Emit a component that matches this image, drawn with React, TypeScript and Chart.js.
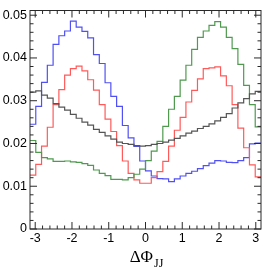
import React, { useEffect, useRef } from "react";
import { Chart, registerables } from "chart.js";

Chart.register(...registerables);

// ---- data ----
const NBINS = 40;
const X_MIN = -Math.PI;
const X_MAX = Math.PI;
const Y_MIN = 0;
const Y_MAX = 0.0511;

const xTickValues = [-3, -2, -1, 0, 1, 2, 3];
const xTickLabels = ["-3", "-2", "-1", "0", "1", "2", "3"];
const yTickValues = [0, 0.01, 0.02, 0.03, 0.04, 0.05];
const yTickLabels = ["0", "0.01", "0.02", "0.03", "0.04", "0.05"];
const xMinorStep = 0.2;
const yMinorStep = 0.002;

const blueValues = [
  0.0245, 0.0287, 0.0343, 0.0383, 0.0432, 0.0452, 0.0463, 0.0486, 0.0472, 0.0462,
  0.0447, 0.0408, 0.0387, 0.0342, 0.031, 0.0287, 0.0242, 0.0213, 0.0193, 0.0159,
  0.0136, 0.0124, 0.0118, 0.0117, 0.0111, 0.0117, 0.0124, 0.013, 0.0135, 0.0141,
  0.0148, 0.0154, 0.016, 0.0159, 0.0156, 0.0155, 0.016, 0.0167, 0.0199, 0.0201,
];
const redValues = [
  0.0126, 0.0151, 0.0194, 0.0238, 0.0291, 0.0326, 0.036, 0.0375, 0.0381, 0.037,
  0.0349, 0.0325, 0.0291, 0.0257, 0.0228, 0.0195, 0.0159, 0.013, 0.0115, 0.0107,
  0.0107, 0.012, 0.0134, 0.0158, 0.0194, 0.0231, 0.0261, 0.0297, 0.0324, 0.0351,
  0.0375, 0.0377, 0.0379, 0.0358, 0.0335, 0.0291, 0.0236, 0.019, 0.015, 0.0122,
];
const greenValues = [
  0.0207, 0.0179, 0.0167, 0.0164, 0.0158, 0.0158, 0.0159, 0.0157, 0.0156, 0.0153,
  0.0149, 0.0138, 0.013, 0.0125, 0.0116, 0.0116, 0.0115, 0.012, 0.0128, 0.014,
  0.016, 0.0182, 0.0205, 0.024, 0.028, 0.031, 0.0348, 0.0383, 0.042, 0.0448,
  0.0463, 0.0476, 0.0485, 0.0472, 0.0448, 0.0422, 0.0385, 0.0336, 0.0291, 0.0239,
];
const blackValues = [
  0.032, 0.0323, 0.0313, 0.0306, 0.0293, 0.0285, 0.0278, 0.0268, 0.0259, 0.025,
  0.0243, 0.0233, 0.0226, 0.0218, 0.021, 0.0203, 0.02, 0.0198, 0.0195, 0.0194,
  0.0195, 0.0198, 0.02, 0.0203, 0.0208, 0.0212, 0.0218, 0.0224, 0.0229, 0.0235,
  0.024, 0.0246, 0.0253, 0.0261, 0.027, 0.0283, 0.0295, 0.0305, 0.0316, 0.0322,
];

const seriesColors = {
  black: "#555555",
  green: "#4f9a4f",
  red: "#ff5a5a",
  blue: "#5050f5",
};

function histPoints(values: number[]) {
  const w = (X_MAX - X_MIN) / NBINS;
  const pts = values.map((v, i) => ({ x: X_MIN + i * w, y: v }));
  pts.push({ x: X_MAX, y: values[values.length - 1] });
  return pts;
}

const framePlugin = {
  id: "rootFrame",
  afterDatasetsDraw(chart: any) {
    const { ctx, chartArea } = chart;
    const xs = chart.scales.x;
    const ys = chart.scales.y;
    const { left, right, top, bottom } = chartArea;
    ctx.save();
    ctx.strokeStyle = "#2a2a2a";
    ctx.lineWidth = 1;
    ctx.strokeRect(left, top, right - left, bottom - top);
    const major = 7;
    const minor = 3.5;
    ctx.beginPath();
    // x ticks (bottom and top)
    const nx = Math.round((X_MAX - X_MIN) / xMinorStep) + 2;
    const xStart = Math.ceil(X_MIN / xMinorStep) * xMinorStep;
    for (let i = 0; i < nx; i++) {
      const v = xStart + i * xMinorStep;
      if (v > X_MAX) break;
      const isMajor = Math.abs(v - Math.round(v)) < 1e-6;
      const len = isMajor ? major : minor;
      const px = xs.getPixelForValue(v);
      ctx.moveTo(px, bottom);
      ctx.lineTo(px, bottom - len);
      ctx.moveTo(px, top);
      ctx.lineTo(px, top + len);
    }
    // y ticks (left and right)
    const ny = Math.round((Y_MAX - Y_MIN) / yMinorStep) + 2;
    for (let i = 0; i < ny; i++) {
      const v = Y_MIN + i * yMinorStep;
      if (v > Y_MAX) break;
      const isMajor = i % 5 === 0;
      const len = isMajor ? major : minor;
      const py = ys.getPixelForValue(v);
      ctx.moveTo(left, py);
      ctx.lineTo(left + len, py);
      ctx.moveTo(right, py);
      ctx.lineTo(right - len, py);
    }
    ctx.stroke();

    // axis title: ΔΦ with subscript JJ
    const main = "ΔΦ";
    const sub = "JJ";
    ctx.fillStyle = "#000";
    ctx.textBaseline = "alphabetic";
    ctx.font = "17px 'Liberation Serif'";
    const wMain = ctx.measureText(main).width;
    ctx.font = "12px 'Liberation Serif'";
    const wSub = ctx.measureText(sub).width;
    const cx = xs.getPixelForValue(0) + 1;
    const x0 = cx - (wMain + wSub + 1) / 2;
    ctx.font = "17px 'Liberation Serif'";
    ctx.fillText(main, x0, 262);
    ctx.font = "12px 'Liberation Serif'";
    ctx.fillText(sub, x0 + wMain + 1, 267);
    ctx.restore();
  },
};

export default function App() {
  const canvasRef = useRef<HTMLCanvasElement | null>(null);

  useEffect(() => {
    document.body.style.margin = "0";
    const canvas = canvasRef.current;
    if (!canvas) return;
    const mk = (values: number[], color: string) => ({
      data: histPoints(values),
      borderColor: color,
      backgroundColor: color,
      borderWidth: 1.2,
      pointRadius: 0,
      stepped: "before" as const,
      fill: false,
    });
    const chart = new Chart(canvas, {
      type: "line",
      data: {
        datasets: [
          mk(blackValues, seriesColors.black),
          mk(greenValues, seriesColors.green),
          mk(redValues, seriesColors.red),
          mk(blueValues, seriesColors.blue),
        ],
      },
      options: {
        animation: false,
        responsive: false,
        devicePixelRatio: 1,
        layout: { padding: { top: 3, right: 5, left: 0, bottom: 0 } },
        plugins: {
          legend: { display: false },
          tooltip: { enabled: false },
        },
        scales: {
          x: {
            type: "linear",
            min: X_MIN,
            max: X_MAX,
            grid: { display: false, drawTicks: false },
            border: { display: false },
            afterBuildTicks: (scale: any) => {
              scale.ticks = xTickValues.map((v) => ({ value: v }));
            },
            afterFit: (scale: any) => {
              scale.height = 40;
            },
            ticks: {
              padding: 2,
              maxRotation: 0,
              autoSkip: false,
              color: "#000",
              font: { family: "'Liberation Sans', Arial, sans-serif", size: 12.5 },
              callback: (value: any) => {
                const i = xTickValues.findIndex((t) => Math.abs(t - Number(value)) < 1e-9);
                return i >= 0 ? xTickLabels[i] : "";
              },
            },
          },
          y: {
            type: "linear",
            min: Y_MIN,
            max: Y_MAX,
            grid: { display: false, drawTicks: false },
            border: { display: false },
            afterBuildTicks: (scale: any) => {
              scale.ticks = yTickValues.map((v) => ({ value: v }));
            },
            afterFit: (scale: any) => {
              scale.width = 30;
            },
            ticks: {
              padding: 3,
              autoSkip: false,
              color: "#000",
              font: { family: "'Liberation Sans', Arial, sans-serif", size: 12.5 },
              callback: (value: any) => {
                const i = yTickValues.findIndex((t) => Math.abs(t - Number(value)) < 1e-9);
                return i >= 0 ? yTickLabels[i] : "";
              },
            },
          },
        },
      },
      plugins: [framePlugin],
    });
    return () => chart.destroy();
  }, []);

  return (
    <div style={{ width: 266, height: 269 }}>
      <canvas ref={canvasRef} width={266} height={269} />
    </div>
  );
}
